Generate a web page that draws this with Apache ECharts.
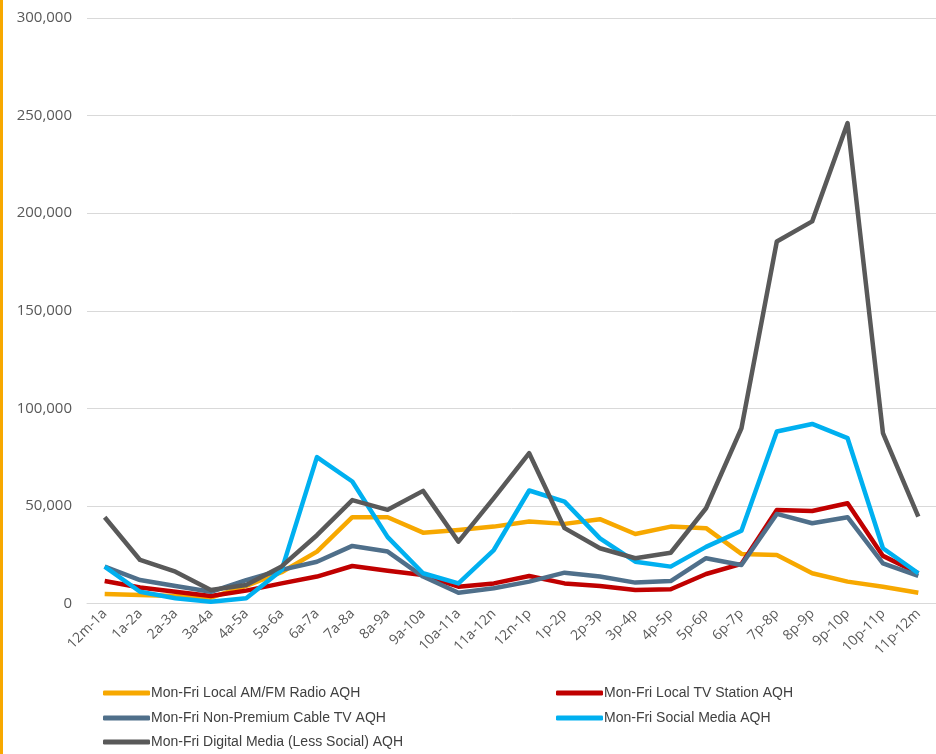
<!DOCTYPE html>
<html><head><meta charset="utf-8">
<script src="https://cdn.jsdelivr.net/npm/echarts@6/dist/echarts.min.js"></script>
<style>html,body{margin:0;padding:0;background:#fff}#c{width:936px;height:754px}</style>
</head><body><div id="c"></div>
<script>
var categories = ['12m-1a','1a-2a','2a-3a','3a-4a','4a-5a','5a-6a','6a-7a','7a-8a','8a-9a','9a-10a','10a-11a','11a-12n','12n-1p','1p-2p','2p-3p','3p-4p','4p-5p','5p-6p','6p-7p','7p-8p','8p-9p','9p-10p','10p-11p','11p-12m'];
var radio   = [4900,4300,3800,3000,9000,16000,26600,44200,44200,36300,37700,39400,42000,40800,43200,35600,39400,38600,25400,24900,15500,11200,8600,5500];
var tv      = [11500,8200,6000,3800,6600,10300,13800,19200,16800,14600,8600,10300,14100,10300,9000,6900,7300,15100,20300,47900,47400,51400,24400,15500];
var cable   = [18900,12000,9000,6000,12000,17200,21400,29500,26600,13800,5500,7800,11200,15800,13800,10700,11500,23200,19700,45900,41100,44200,20600,14100];
var social  = [18900,6000,2700,900,2700,17000,75000,62500,34000,15500,10300,27400,57900,52200,33400,21400,18900,29000,37300,88100,92000,84700,28300,15500];
var digital = [44200,22300,16300,6900,9500,19000,35000,53000,48000,57700,31700,54000,77000,38600,28300,23200,26000,48800,89800,185500,195800,246200,87300,44500];
var yTicks = [0,50000,100000,150000,200000,250000,300000];
var names = ['Mon-Fri Local AM/FM Radio AQH','Mon-Fri Local TV Station AQH','Mon-Fri Non-Premium Cable TV AQH','Mon-Fri Social Media AQH','Mon-Fri Digital Media (Less Social) AQH'];
var colors = ['#F7A800','#C00000','#4F6F8A','#00B0F0','#595959'];
var seriesData = [radio, tv, cable, social, digital];

var chart = echarts.init(document.getElementById('c'), null, {renderer:'canvas'});
var legendPos = [[103,685],[556,685],[103,710],[556,710],[103,734]];
var legends = names.map(function(n,i){
  return {data:[n], left:legendPos[i][0], top:legendPos[i][1], icon:'roundRect', itemWidth:47, itemHeight:5, itemGap:0,
    textStyle:{fontFamily:'Liberation Sans, Arial, sans-serif', fontSize:14, color:'#404040', lineHeight:16, padding:[0,0,0,-4]}, padding:0, selectedMode:false};
});
chart.setOption({
  animation:false,
  backgroundColor:'#fff',
  graphic:[{type:'rect', left:0, top:0, shape:{x:0,y:0,width:3,height:754}, style:{fill:'#F7A800'}}],
  grid:{left:87, top:18, width:856, height:585.5, containLabel:false},
  legend:legends,
  xAxis:{type:'category', data:categories, boundaryGap:true,
    axisLine:{lineStyle:{color:'#D9D9D9', width:1}}, axisTick:{show:false},
    axisLabel:{rotate:45, interval:0, fontFamily:'Open Sans, sans-serif', fontSize:14, color:'#595959', margin:8}},
  yAxis:{type:'value', min:0, max:300000, interval:50000,
    axisLine:{show:false}, axisTick:{show:false},
    splitLine:{lineStyle:{color:'#D9D9D9', width:1}},
    axisLabel:{fontFamily:'Open Sans, sans-serif', fontSize:15, color:'#595959', margin:15,
      formatter:function(v){return v.toLocaleString('en-US');}}},
  series:seriesData.map(function(d,i){
    return {name:names[i], type:'line', data:d, symbol:'none', z:2+i,
      lineStyle:{width:4.5, color:colors[i], join:'round'}, itemStyle:{color:colors[i]}};
  })
});
</script></body></html>
